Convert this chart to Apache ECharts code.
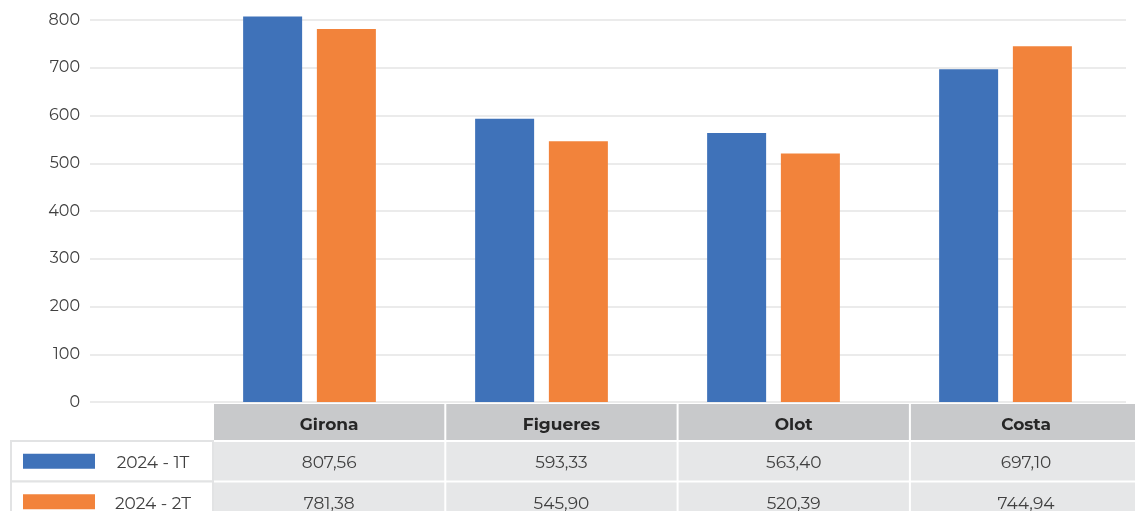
<!DOCTYPE html>
<html><head><meta charset="utf-8">
<script src="https://cdn.jsdelivr.net/npm/echarts@6/dist/echarts.min.js"></script>
<style>html,body{margin:0;padding:0;background:#fff}#c{width:1135px;height:511px}</style>
</head><body><div id="c"></div>
<script>
const categories = ['Girona', 'Figueres', 'Olot', 'Costa'];
const seriesNames = ['2024 - 1T', '2024 - 2T'];
const values1T = [807.56, 593.33, 563.40, 697.10];
const values2T = [781.38, 545.90, 520.39, 744.94];
const colors = ['#3F72B9', '#F2833B'];

const FONT = 'Montserrat, Inter, "Noto Sans", sans-serif';
const fmt = v => v.toFixed(2).replace('.', ',');

const chart = echarts.init(document.getElementById('c'));

// table geometry
const colX0 = 214, colW = 232.3, headerTop = 404, headerH = 36, rowH = 38.5, rowGap = 2;
const graphics = [];
categories.forEach((c, i) => {
  const x = colX0 + i * colW;
  graphics.push({type:'rect', shape:{x:x, y:headerTop, width:colW-2, height:headerH}, style:{fill:'#C8C9CB'}, silent:true});
  graphics.push({type:'text', x:x + (colW-2)/2, y:headerTop + headerH/2 + 3, style:{text:c, fill:'#262626', font:'bold 17px ' + FONT, align:'center', verticalAlign:'middle'}, silent:true});
});
const rowsData = [values1T, values2T];
rowsData.forEach((arr, r) => {
  const y = headerTop + headerH + rowGap + r * (rowH + rowGap);
  // legend cell
  graphics.push({type:'rect', shape:{x:11, y:y-1, width:202, height:rowH+2}, style:{fill:'#fff', stroke:'#E2E3E4', lineWidth:2}, silent:true});
  graphics.push({type:'rect', shape:{x:23, y:y + rowH/2 - 7.5, width:72, height:15}, style:{fill:colors[r]}, silent:true});
  graphics.push({type:'text', x:153, y:y + rowH/2 + 2, style:{text:seriesNames[r], fill:'#404040', font:'17px ' + FONT, align:'center', verticalAlign:'middle'}, silent:true});
  arr.forEach((v, i) => {
    const x = colX0 + i * colW;
    graphics.push({type:'rect', shape:{x:x, y:y, width:colW-2, height:rowH}, style:{fill:'#E6E7E8'}, silent:true});
    graphics.push({type:'text', x:x + (colW-2)/2, y:y + rowH/2 + 2, style:{text:fmt(v), fill:'#404040', font:'17px ' + FONT, align:'center', verticalAlign:'middle'}, silent:true});
  });
});

chart.setOption({
  animation: false,
  grid: [
    {left: 90, right: 9, top: 20, height: 382},
    {left: 193.5, width: 928, top: 20, height: 382}
  ],
  xAxis: [
    {type:'category', gridIndex:0, data:[''], show:false},
    {type:'category', gridIndex:1, data:categories, axisLine:{show:false}, axisTick:{show:false}, axisLabel:{show:false}}
  ],
  yAxis: [
    {type:'value', gridIndex:0, min:0, max:800, interval:100,
     axisLine:{show:false}, axisTick:{show:false},
     axisLabel:{color:'#404040', fontSize:16, fontFamily:FONT, margin:10},
     splitLine:{lineStyle:{color:'#E4E4E4', width:1.5}}},
    {type:'value', gridIndex:1, min:0, max:800, interval:100, show:false, splitLine:{show:false}}
  ],
  series: [
    {name:seriesNames[0], type:'bar', xAxisIndex:1, yAxisIndex:1, data:values1T, barWidth:59, barGap:'25%', clip:false, itemStyle:{color:colors[0]}},
    {name:seriesNames[1], type:'bar', xAxisIndex:1, yAxisIndex:1, data:values2T, barWidth:59, barGap:'25%', clip:false, itemStyle:{color:colors[1]}}
  ],
  graphic: graphics
});
</script></body></html>
